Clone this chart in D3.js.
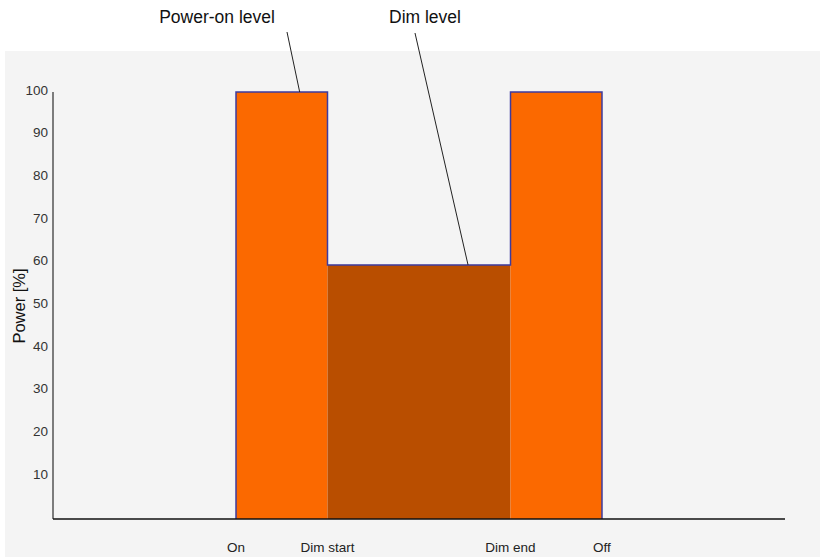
<!DOCTYPE html>
<html>
<head>
<meta charset="utf-8">
<script src="https://cdn.jsdelivr.net/npm/d3@7.9.0/dist/d3.min.js"></script>
<style>
  body { margin: 0; background: #fff; }
  svg { display: block; font-family: "Liberation Sans", Arial, sans-serif; }
</style>
</head>
<body>
<svg id="chart" width="820" height="557"></svg>
<script>
// phases along the time axis: [start, end, power %]
const phases = [
  { name: 'on', start: 25, end: 37.5, power: 100 },
  { name: 'dim', start: 37.5, end: 62.5, power: 59.5 },
  { name: 'off', start: 62.5, end: 75, power: 100 }
];
const eventLabels = ['On', 'Dim start', 'Dim end', 'Off'];
const eventTimes = [25, 37.5, 62.5, 75];
const yTicks = [10, 20, 30, 40, 50, 60, 70, 80, 90, 100];

const svg = d3.select('#chart');

const x = d3.scaleLinear().domain([0, 100]).range([53, 785]);
const y = d3.scaleLinear().domain([0, 100]).range([519, 92]);

// grey panel
svg.append('rect')
  .attr('x', 5).attr('y', 51)
  .attr('width', 815).attr('height', 506)
  .attr('fill', '#f4f4f4');

// bars
svg.selectAll('rect.phase')
  .data(phases)
  .join('rect')
  .attr('class', 'phase')
  .attr('x', d => x(d.start))
  .attr('width', d => x(d.end) - x(d.start))
  .attr('y', d => y(d.power))
  .attr('height', d => y(0) - y(d.power))
  .attr('fill', d => d.name === 'dim' ? '#b94e00' : '#fb6900');

// outline as a step line
let pts = [[phases[0].start, 0]];
phases.forEach(p => { pts.push([p.start, p.power]); pts.push([p.end, p.power]); });
pts.push([phases[phases.length - 1].end, 0]);
svg.append('path')
  .attr('d', d3.line().x(d => x(d[0])).y(d => y(d[1]))(pts))
  .attr('fill', 'none')
  .attr('stroke', '#3d3b9e')
  .attr('stroke-width', 1.5);

// y axis
svg.append('line')
  .attr('x1', x(0)).attr('x2', x(0))
  .attr('y1', y(100)).attr('y2', y(0))
  .attr('stroke', '#555').attr('stroke-width', 1.5);

svg.selectAll('text.ytick')
  .data(yTicks)
  .join('text')
  .attr('class', 'ytick')
  .attr('x', 48)
  .attr('y', d => y(d) + 2.5)
  .attr('text-anchor', 'end')
  .attr('font-size', 13.5)
  .attr('fill', '#333')
  .text(d => d);

svg.append('text')
  .attr('transform', `translate(25,306) rotate(-90)`)
  .attr('text-anchor', 'middle')
  .attr('font-size', 16.5)
  .attr('fill', '#111')
  .text('Power [%]');

// x axis
svg.append('line')
  .attr('x1', x(0)).attr('x2', x(100))
  .attr('y1', y(0)).attr('y2', y(0))
  .attr('stroke', '#111').attr('stroke-width', 1.5);

svg.selectAll('text.xlab')
  .data(eventLabels)
  .join('text')
  .attr('class', 'xlab')
  .attr('x', (d, i) => x(eventTimes[i]))
  .attr('y', 552)
  .attr('text-anchor', 'middle')
  .attr('font-size', 13.5)
  .attr('fill', '#222')
  .text(d => d);

// annotations
const notes = [
  { text: 'Power-on level', tx: 217, lx1: 287, ly1: 32, t: 33.7, p: 100 },
  { text: 'Dim level', tx: 425, lx1: 415, ly1: 33, t: 56.7, p: 59.5 }
];
notes.forEach(n => {
  svg.append('text')
    .attr('x', n.tx).attr('y', 23)
    .attr('text-anchor', 'middle')
    .attr('font-size', 17.5)
    .attr('fill', '#111')
    .text(n.text);
  svg.append('line')
    .attr('x1', n.lx1).attr('y1', n.ly1)
    .attr('x2', x(n.t)).attr('y2', y(n.p))
    .attr('stroke', '#222').attr('stroke-width', 1);
});
</script>
</body>
</html>
